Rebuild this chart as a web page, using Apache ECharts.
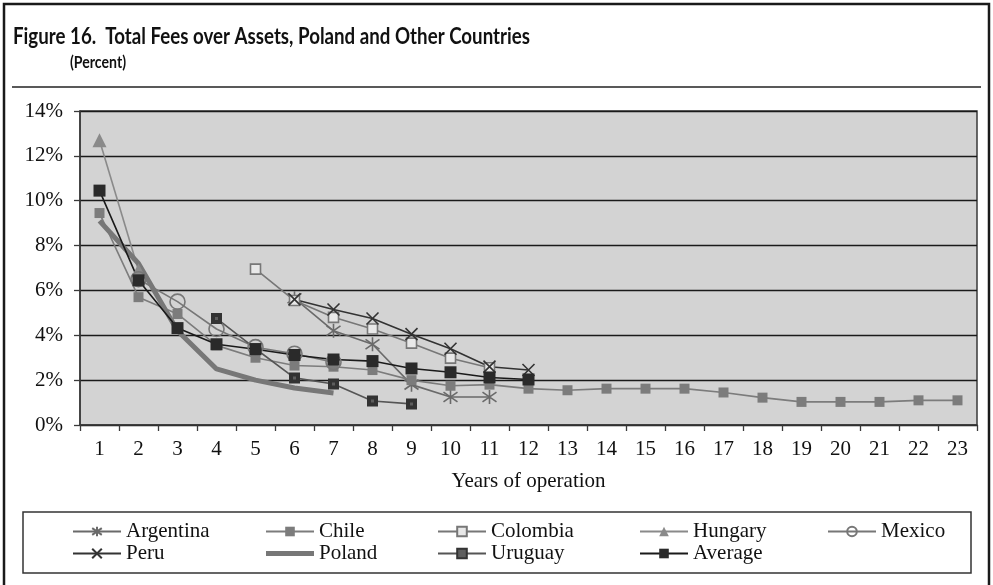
<!DOCTYPE html>
<html>
<head>
<meta charset="utf-8">
<script src="https://cdn.jsdelivr.net/npm/echarts@6/dist/echarts.min.js"></script>
<style>
  html, body { margin: 0; padding: 0; background: #ffffff; }
  #chart { width: 993px; height: 585px; }
</style>
</head>
<body>
<div id="chart"></div>
<script>
// Years of operation (category axis)
const years = ['1','2','3','4','5','6','7','8','9','10','11','12','13','14','15','16','17','18','19','20','21','22','23'];

// Total fees over assets, percent, by year of operation
const argentina = [null, null, null, null, null, 5.65, 4.2, 3.6, 1.8, 1.25, 1.25];
const chile     = [9.45, 5.7, 4.95, 3.55, 3.0, 2.65, 2.6, 2.45, 2.0, 1.75, 1.8, 1.62, 1.55, 1.62, 1.62, 1.62, 1.45, 1.22, 1.03, 1.03, 1.03, 1.1, 1.1];
const colombia  = [null, null, null, null, 6.95, 5.55, 4.8, 4.28, 3.65, 2.98, 2.55];
const hungary   = [12.7, 6.9];
const mexico    = [null, 6.5, 5.5, 4.28, 3.47, 3.18, 2.8];
const peru      = [null, null, null, null, null, 5.6, 5.15, 4.75, 4.05, 3.4, 2.6, 2.45];
const poland    = [9.1, 7.2, 4.2, 2.5, 2.0, 1.65, 1.43];
const uruguay   = [null, null, null, 4.75, 3.4, 2.1, 1.83, 1.07, 0.94];
const average   = [10.45, 6.45, 4.32, 3.6, 3.38, 3.12, 2.92, 2.85, 2.52, 2.35, 2.12, 2.03];

const titleText = 'Figure 16.  Total Fees over Assets, Poland and Other Countries';
const subtitleText = '(Percent)';

const serif = "'Liberation Serif', 'Times New Roman', serif";
const headFont = "Lato, 'Open Sans', sans-serif";

// Condensed heading: squeeze a bold sans horizontally to a set width
function squeeze(text, font, targetWidth) {
  const ctx = document.createElement('canvas').getContext('2d');
  ctx.font = font;
  const w = ctx.measureText(text).width;
  return w > 0 ? targetWidth / w : 1;
}
const titleScale = squeeze(titleText, 'bold 22px ' + headFont, 517);
const subtitleScale = squeeze(subtitleText, 'bold 17px ' + headFont, 56);

const starPath = 'path://M5,0L5,10M0,1.5L10,8.5M10,1.5L0,8.5';
const crossPath = 'path://M0,0L10,10M10,0L0,10';
const barPath = 'path://M0,0L48,0L48,5L0,5Z';

function lineSeries(name, data, opts) {
  return Object.assign({
    name: name,
    type: 'line',
    data: data,
    symbolKeepAspect: true,
    animation: false,
    emphasis: { disabled: true }
  }, opts);
}

const series = [
  lineSeries('Argentina', argentina, {
    symbol: starPath, symbolSize: 14,
    lineStyle: { color: '#6a6a6a', width: 1.6 },
    itemStyle: { color: 'rgba(0,0,0,0)', borderColor: '#6a6a6a', borderWidth: 1.6 }
  }),
  lineSeries('Chile', chile, {
    symbol: 'rect', symbolSize: 10,
    lineStyle: { color: '#7c7c7c', width: 1.6 },
    itemStyle: { color: '#7c7c7c' }
  }),
  lineSeries('Colombia', colombia, {
    symbol: 'rect', symbolSize: 10,
    lineStyle: { color: '#777777', width: 1.6 },
    itemStyle: { color: '#e8e8e8', borderColor: '#777777', borderWidth: 1.6 }
  }),
  lineSeries('Hungary', hungary, {
    symbol: 'triangle', symbolSize: 14,
    lineStyle: { color: '#8a8a8a', width: 1.6 },
    itemStyle: { color: '#8a8a8a' }
  }),
  lineSeries('Mexico', mexico, {
    symbol: 'circle', symbolSize: 15,
    lineStyle: { color: '#777777', width: 1.6 },
    itemStyle: { color: 'rgba(0,0,0,0)', borderColor: '#777777', borderWidth: 1.6 }
  }),
  lineSeries('Peru', peru, {
    symbol: crossPath, symbolSize: 12,
    lineStyle: { color: '#333333', width: 1.6 },
    itemStyle: { color: 'rgba(0,0,0,0)', borderColor: '#333333', borderWidth: 1.6 }
  }),
  lineSeries('Poland', poland, {
    symbol: 'none', showSymbol: false,
    lineStyle: { color: '#777777', width: 5 },
    itemStyle: { color: '#777777' }
  }),
  // dark square with a small grey centre dot
  lineSeries('Uruguay', uruguay, {
    symbol: 'rect', symbolSize: 7,
    lineStyle: { color: '#555555', width: 1.6 },
    itemStyle: { color: '#5e5e5e', borderColor: '#333333', borderWidth: 4 }
  }),
  lineSeries('Average', average, {
    symbol: 'rect', symbolSize: 12,
    lineStyle: { color: '#1a1a1a', width: 1.6 },
    itemStyle: { color: '#2a2a2a' }
  })
];

// Legend laid out as five columns of two rows
const legendColumns = [
  { left: 72,  names: ['Argentina', 'Peru'] },
  { left: 265, names: ['Chile', { name: 'Poland', icon: barPath }] },
  { left: 437, names: ['Colombia', 'Uruguay'] },
  { left: 639, names: ['Hungary', 'Average'] },
  { left: 827, names: ['Mexico'] }
];

const legends = legendColumns.map(c => ({
  data: c.names,
  left: c.left,
  top: 521,
  orient: 'vertical',
  padding: 0,
  itemGap: 1,
  itemWidth: 48,
  itemHeight: 12,
  selectedMode: false,
  textStyle: { fontFamily: serif, fontSize: 21, color: '#111' }
}));

const chart = echarts.init(document.getElementById('chart'), null, { renderer: 'canvas' });

chart.setOption({
  backgroundColor: '#ffffff',
  animation: false,
  legend: legends,
  grid: {
    left: 80, right: 16, top: 111, bottom: 160,
    show: true,
    backgroundColor: '#d3d3d3',
    borderColor: '#3a3a3a',
    borderWidth: 1.5
  },
  xAxis: {
    type: 'category',
    data: years,
    boundaryGap: true,
    name: 'Years of operation',
    nameLocation: 'middle',
    nameGap: 46,
    nameTextStyle: { fontFamily: serif, fontSize: 21, color: '#111', verticalAlign: 'top' },
    axisLine: { show: true, lineStyle: { color: '#3a3a3a', width: 1.5 } },
    axisTick: { show: true, interval: 0, length: 6, lineStyle: { color: '#3a3a3a', width: 1.3 } },
    axisLabel: { interval: 0, margin: 14, fontFamily: serif, fontSize: 21, color: '#111' },
    splitLine: { show: false }
  },
  yAxis: {
    type: 'value',
    min: 0, max: 14, interval: 2,
    axisLine: { show: true, lineStyle: { color: '#3a3a3a', width: 1.5 } },
    axisTick: { show: true, length: 6, lineStyle: { color: '#3a3a3a', width: 1.3 } },
    axisLabel: { formatter: '{value}%', margin: 17, fontFamily: serif, fontSize: 21, color: '#111' },
    splitLine: { show: true, lineStyle: { color: '#1a1a1a', width: 1.4 } }
  },
  graphic: [
    {
      type: 'rect', silent: true, z: -1,
      shape: { x: 4, y: 4, width: 985, height: 640 },
      style: { fill: 'none', stroke: '#1a1a1a', lineWidth: 2.5 }
    },
    {
      type: 'text', silent: true,
      x: 13, y: 26, scaleX: titleScale,
      style: { text: titleText, font: 'bold 22px ' + headFont, fill: '#111', textVerticalAlign: 'top' }
    },
    {
      type: 'text', silent: true,
      x: 70, y: 54, scaleX: subtitleScale,
      style: { text: subtitleText, font: 'bold 17px ' + headFont, fill: '#111', textVerticalAlign: 'top' }
    },
    {
      type: 'line', silent: true,
      shape: { x1: 12, y1: 87, x2: 981, y2: 87 },
      style: { stroke: '#222', lineWidth: 1.5 }
    },
    {
      type: 'rect', silent: true,
      shape: { x: 23, y: 512, width: 948, height: 61 },
      style: { fill: 'none', stroke: '#333', lineWidth: 1.5 }
    }
  ],
  series: series
});
</script>
</body>
</html>
